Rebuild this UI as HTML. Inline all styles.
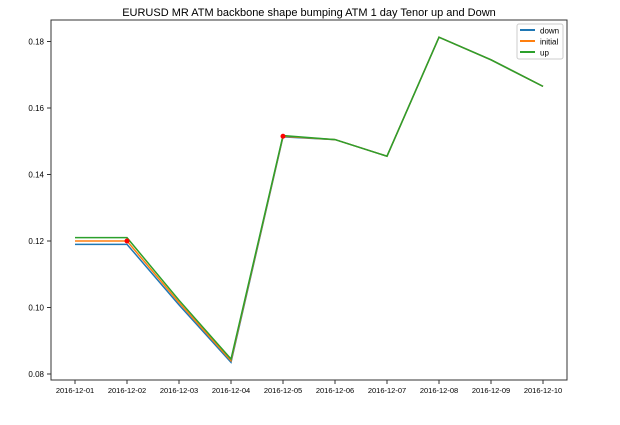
<!DOCTYPE html>
<html><head><meta charset="utf-8"><style>
body{margin:0;background:#fff;font-family:"Liberation Sans",sans-serif}
svg text{font-family:"Liberation Sans",sans-serif}
</style></head><body>
<svg id="chart" width="620" height="420">
<text x="309" y="16" text-anchor="middle" font-size="11" fill="#000">EURUSD MR ATM backbone shape  bumping ATM 1 day Tenor up and Down</text>
<rect x="51" y="20" width="516" height="360" fill="none" stroke="#333" stroke-width="1"/>
<g id="axes"></g><g id="lines"></g>
<g>
<rect x="517" y="24" width="46" height="35" fill="#fff" stroke="#ccc" rx="2"/>
<line x1="520" y1="30" x2="535" y2="30" stroke="#1f77b4" stroke-width="2"/><text x="540" y="33.5" font-size="8">down</text>
<line x1="520" y1="41" x2="535" y2="41" stroke="#ff7f0e" stroke-width="2"/><text x="540" y="44.5" font-size="8">initial</text>
<line x1="520" y1="52" x2="535" y2="52" stroke="#2ca02c" stroke-width="2"/><text x="540" y="55.5" font-size="8">up</text>
</g>
</svg>
<script>
const categories=["2016-12-01","2016-12-02","2016-12-03","2016-12-04","2016-12-05","2016-12-06","2016-12-07","2016-12-08","2016-12-09","2016-12-10"];
const initialVals=[0.120,0.120,0.1015,0.0840,0.1515,0.1505,0.1455,0.1813,0.1745,0.1665];
const downVals=[0.119,0.119,0.1008,0.0835,0.1513,0.1505,0.1455,0.1813,0.1745,0.1665];
const upVals=[0.121,0.121,0.1022,0.0845,0.1517,0.1505,0.1455,0.1813,0.1745,0.1665];
const markerIdx=[1,4];
const yTicks=[0.08,0.10,0.12,0.14,0.16,0.18];
const NS="http://www.w3.org/2000/svg";
const xS=i=>75+i*52;
const yS=v=>374-(v-0.08)*3325;
const ax=document.getElementById('axes'),ln=document.getElementById('lines');
function mk(tag,at,p){const e=document.createElementNS(NS,tag);for(const k in at)e.setAttribute(k,at[k]);p.appendChild(e);return e;}
yTicks.forEach(t=>{
 const l=mk('line',{x1:47,x2:51,y1:yS(t),y2:yS(t),stroke:'#333'},ax);
 
 
 const tx=mk('text',{x:44,y:yS(t)+3,'text-anchor':'end','font-size':'8'},ax);tx.textContent=t.toFixed(2);
 
 
});
categories.forEach((c,i)=>{
 const l=mk('line',{x1:xS(i),x2:xS(i),y1:380,y2:384,stroke:'#333'},ax);
 
 
 const tx=mk('text',{x:xS(i),y:393,'text-anchor':'middle','font-size':'7.5'},ax);tx.textContent=c;
 
 
});
[[downVals,'#1f77b4','line-down'],[initialVals,'#ff7f0e','line-initial'],[upVals,'#2ca02c','line-up']].forEach(([d,c,n])=>{
 const p=mk('polyline',{points:d.map((v,i)=>xS(i)+','+yS(v)).join(' '),fill:'none',stroke:c,'stroke-width':1.5},ln);
 
 
});
markerIdx.forEach(i=>{
 const m=mk('circle',{cx:xS(i),cy:yS(initialVals[i]),r:2.5,fill:'red'},ln);
 
 
});
</script>
</body></html>
